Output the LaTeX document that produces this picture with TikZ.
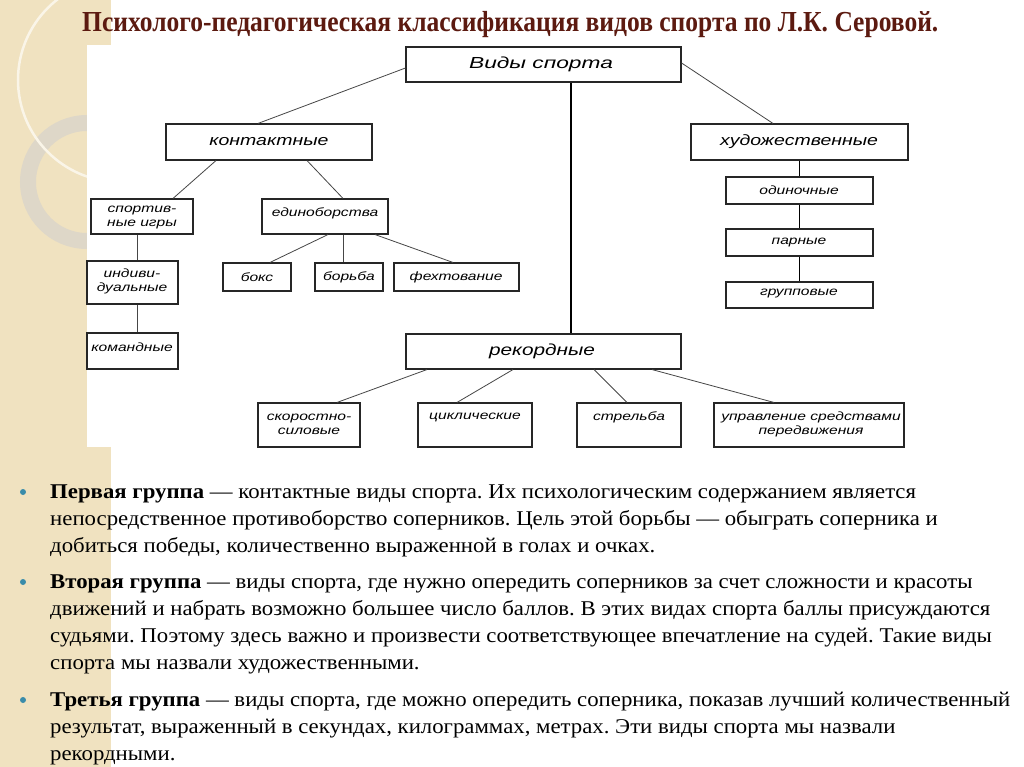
\documentclass[tikz,border=0pt]{standalone}
\usepackage{fontspec}
\setmainfont[FakeStretch=1.085]{Liberation Serif}
\newfontfamily\boxfont[FakeStretch=1.3]{Liberation Sans}
\newfontfamily\vidfont[FakeStretch=1.42]{Liberation Sans}
\newfontfamily\titlefont[FakeStretch=0.88]{Liberation Serif}
\usetikzlibrary{calc}
\definecolor{beige}{RGB}{240,226,192}
\definecolor{ringcol}{RGB}{222,215,200}
\definecolor{creamline}{RGB}{250,245,232}
\definecolor{titlecol}{RGB}{92,26,16}
\definecolor{bulletcol}{RGB}{58,140,170}
\definecolor{conncol}{RGB}{70,70,70}
\tikzset{
  box/.style={draw=black!85, line width=1.1pt, fill=white, inner sep=0pt},
  big/.style={font=\boxfont\itshape\fontsize{15}{17}\selectfont},
  small/.style={font=\boxfont\itshape\fontsize{12}{14}\selectfont, align=center},
  conn/.style={draw=conncol, line width=0.8pt},
  thick conn/.style={draw=black, line width=1.7pt},
  para/.style={anchor=base west, inner sep=0pt, align=left, font=\fontsize{21}{27.3}\selectfont\frenchspacing},
  bullet/.style={circle, fill=bulletcol, inner sep=0pt, minimum size=6pt}
}
\newcommand\bx[6]{\node[box, minimum width={(#4-#2)*1pt}, minimum height={(#5-#3)*1pt}] (#1) at ({(#2+#4)/2},{(#3+#5)/2}) {#6};}
\begin{document}
\begin{tikzpicture}[x=1pt,y=-1pt]
\useasboundingbox (0,0) rectangle (1024,767);
\fill[white] (0,0) rectangle (1024,767);
\fill[beige] (0,0) rectangle (111,767);
\begin{scope}
  \clip (0,0) rectangle (111,767);
  \draw[ringcol, line width=16pt] (87,182) circle[radius=59];
  \draw[creamline, line width=2.5pt] (120,80) circle[radius=102];
\end{scope}
\fill[white] (87,45) rectangle (1010,447);

% title
\node[anchor=base west, inner sep=0pt, text=titlecol, font=\titlefont\bfseries\fontsize{29}{32}\selectfont] (title) at (82,32)
  {Психолого-педагогическая классификация видов спорта по Л.К. Серовой.};

% boxes
\bx{vid}{406}{47}{681}{82}{}
\node[font=\vidfont\itshape\fontsize{16}{18}\selectfont] (tvid) at (541,64) {Виды спорта};
\bx{kont}{166}{124}{372}{160}{}
\node[big] (tkont) at (269,142) {контактные};
\bx{hud}{691}{124}{908}{160}{}
\node[big] (thud) at (799,142) {художественные};
\bx{rek}{406}{334}{681}{369}{}
\node[font=\boxfont\itshape\fontsize{16}{18}\selectfont] (trek) at (542,351) {рекордные};

\bx{sport}{91}{199}{193}{234}{}
\node[small] (tsport) at (142,218) {спортив-\\ные игры};
\bx{edin}{262}{199}{388}{234}{}
\node[small] (tedin) at (325,213) {единоборства};
\bx{ind}{87}{261}{178}{304}{}
\node[small] (tind) at (132,281) {индиви-\\дуальные};
\bx{kom}{87}{333}{178}{369}{}
\node[small] (tkom) at (132,347) {командные};
\bx{boks}{223}{263}{291}{291}{}
\node[small] (tboks) at (257,277) {бокс};
\bx{borba}{315}{263}{383}{291}{}
\node[small] (tborba) at (349,277) {борьба};
\bx{feh}{394}{263}{519}{291}{}
\node[small] (tfeh) at (456,277) {фехтование};

\bx{od}{726}{177}{873}{204}{}
\node[small] (tod) at (799,190) {одиночные};
\bx{par}{726}{229}{873}{256}{}
\node[small] (tpar) at (799,243) {парные};
\bx{grp}{726}{282}{873}{308}{}
\node[small] (tgrp) at (799,294) {групповые};

\bx{skor}{258}{403}{360}{447}{}
\node[small] (tskor) at (309,424) {скоростно-\\силовые};
\bx{cikl}{418}{403}{532}{447}{}
\node[small] (tcikl) at (475,417) {циклические};
\bx{strel}{577}{403}{681}{447}{}
\node[small] (tstrel) at (629,417) {стрельба};
\bx{upr}{714}{403}{904}{447}{}
\node[small] (tupr) at (811,424) {управление средствами\\передвижения};

% connectors
\draw[conn] ([yshift=-3.5pt]vid.west) -- ([xshift=-11pt]kont.north);
\draw[conn] ([yshift=1.5pt]vid.east) -- ([xshift=-26.5pt]hud.north);
\draw[thick conn] ([xshift=27.5pt]vid.south) -- ([xshift=27.5pt]rek.north);
\draw[conn] ([xshift=-53pt]kont.south) -- ([xshift=31pt]sport.north);
\draw[conn] ([xshift=38pt]kont.south) -- ([xshift=18pt]edin.north);
\draw[conn] ([xshift=-5pt]sport.south) -- ([xshift=4.5pt]ind.north);
\draw[conn] ([xshift=4.5pt]ind.south) -- ([xshift=4.5pt]kom.north);
\draw[conn] ([xshift=3pt]edin.south) -- ([xshift=13pt]boks.north);
\draw[conn] ([xshift=18pt]edin.south) -- ([xshift=-6pt]borba.north);
\draw[conn] ([xshift=50pt]edin.south) -- ([xshift=-3.5pt]feh.north);
\draw[thick conn] (hud.south) -- (od.north);
\draw[thick conn] (od.south) -- (par.north);
\draw[thick conn] (par.south) -- (grp.north);
\draw[conn] ([xshift=-116.5pt]rek.south) -- ([xshift=28pt]skor.north);
\draw[conn] ([xshift=-30.5pt]rek.south) -- ([xshift=-18pt]cikl.north);
\draw[conn] ([xshift=50.5pt]rek.south) -- ([xshift=-2pt]strel.north);
\draw[conn] ([xshift=108.5pt]rek.south) -- ([xshift=-35pt]upr.north);

% text
\node[bullet] (b1) at (23,492) {};
\node[para] (p1) at (50,552.6) {\textbf{Первая группа} — контактные виды спорта. Их психологическим содержанием является\\
непосредственное противоборство соперников. Цель этой борьбы — обыграть соперника и\\
добиться победы, количественно выраженной в голах и очках.};
\node[bullet] (b2) at (23,582) {};
\node[para] (p2) at (50,669.9) {\textbf{Вторая группа} — виды спорта, где нужно опередить соперников за счет сложности и красоты\\
движений и набрать возможно большее число баллов. В этих видах спорта баллы присуждаются\\
судьями. Поэтому здесь важно и произвести соответствующее впечатление на судей. Такие виды\\
спорта мы назвали художественными.};
\node[bullet] (b3) at (23,700) {};
\node[para] (p3) at (50,760.6) {\textbf{Третья группа} — виды спорта, где можно опередить соперника, показав лучший количественный\\
результат, выраженный в секундах, килограммах, метрах. Эти виды спорта мы назвали\\
рекордными.};
\end{tikzpicture}
\end{document}
